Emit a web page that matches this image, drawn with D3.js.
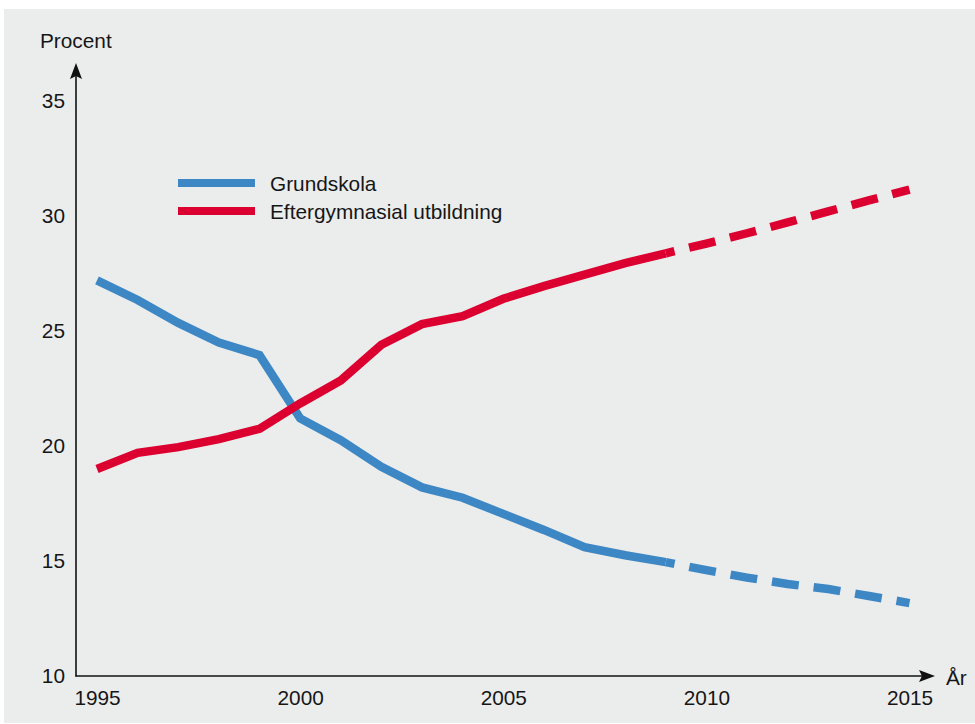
<!DOCTYPE html>
<html lang="sv">
<head>
<meta charset="utf-8">
<script src="https://cdn.jsdelivr.net/npm/d3@7"></script>
<style>
  html, body { margin: 0; padding: 0; background: #ffffff; }
  svg { display: block; }
  text { font-family: "Liberation Sans", Arial, sans-serif; fill: #161616; }
</style>
</head>
<body>
<svg id="chart" width="975" height="724"></svg>
<script>
// Andel av befolkningen efter utbildningsnivå, 1995–2015 (från 2009 prognos)
const years = [1995, 1996, 1997, 1998, 1999, 2000, 2001, 2002, 2003, 2004, 2005,
               2006, 2007, 2008, 2009, 2010, 2011, 2012, 2013, 2014, 2015];
const grundskola = [27.2, 26.35, 25.35, 24.5, 23.95, 21.2, 20.25, 19.1, 18.2, 17.75, 17.05,
                    16.35, 15.6, 15.25, 14.95, 14.6, 14.28, 14.0, 13.78, 13.48, 13.17];
const eftergymnasial = [19.0, 19.7, 19.95, 20.3, 20.75, 21.85, 22.85, 24.4, 25.3, 25.65, 26.4,
                        26.95, 27.45, 27.95, 28.38, 28.8, 29.25, 29.72, 30.2, 30.68, 31.15];
const forecastFrom = 2009;
const seriesNames = ["Grundskola", "Eftergymnasial utbildning"];
const seriesColors = ["#3d87c5", "#dc0030"];
const yTicks = [10, 15, 20, 25, 30, 35];
const xTicks = [1995, 2000, 2005, 2010, 2015];
const yTitle = "Procent";
const xTitle = "År";

const fontSize = 20.8;
const svg = d3.select("#chart");

// Panel background
svg.append("rect")
  .attr("x", 4).attr("y", 9)
  .attr("width", 971).attr("height", 714)
  .attr("fill", "#ebeded");

const x = d3.scaleLinear().domain([1995, 2015]).range([97, 909.5]);
const y = d3.scaleLinear().domain([10, 35]).range([676, 101]);
const x0 = 76;             // y-axis position
const y0 = y(10);          // x-axis position

// Axes: tick labels only, the axis lines are drawn as arrows below
const yAxis = svg.append("g")
  .attr("transform", `translate(${x0},0)`)
  .call(d3.axisLeft(y).tickValues(yTicks).tickSize(0).tickPadding(11).tickFormat(d3.format("d")));
const xAxis = svg.append("g")
  .attr("transform", `translate(0,${y0})`)
  .call(d3.axisBottom(x).tickValues(xTicks).tickSize(0).tickPadding(14).tickFormat(d3.format("d")));
[yAxis, xAxis].forEach(g => {
  g.select(".domain").remove();
  g.selectAll("text").attr("font-size", fontSize).attr("font-family", "Liberation Sans, Arial, sans-serif").attr("fill", "#161616");
});

// Axis lines with arrowheads
const axisColor = "#111";
svg.append("line")
  .attr("x1", x0).attr("y1", y0 + 0.5)
  .attr("x2", x0).attr("y2", 72)
  .attr("stroke", axisColor).attr("stroke-width", 1.6);
svg.append("line")
  .attr("x1", x0 - 0.5).attr("y1", y0)
  .attr("x2", 926).attr("y2", y0)
  .attr("stroke", axisColor).attr("stroke-width", 1.6);
// up arrow
svg.append("path")
  .attr("d", `M${x0},63 L${x0 + 6},79 L${x0},76 L${x0 - 6},79 Z`)
  .attr("fill", axisColor);
// right arrow
svg.append("path")
  .attr("d", `M935,${y0} L919,${y0 - 6} L922,${y0} L919,${y0 + 6} Z`)
  .attr("fill", axisColor);

svg.append("text").attr("x", 40).attr("y", 48).attr("font-size", fontSize).text(yTitle);
svg.append("text").attr("x", 946).attr("y", 685).attr("font-size", fontSize).text(xTitle);

// Lines: observed part solid, forecast part dashed
const line = d3.line().x(d => x(d[0])).y(d => y(d[1])).curve(d3.curveLinear);
[grundskola, eftergymnasial].forEach((vals, i) => {
  const pts = years.map((yr, k) => [yr, vals[k]]);
  const observed = pts.filter(p => p[0] <= forecastFrom);
  const forecast = pts.filter(p => p[0] >= forecastFrom);
  svg.append("path")
    .attr("d", line(observed))
    .attr("fill", "none")
    .attr("stroke", seriesColors[i])
    .attr("stroke-width", 8.5)
    .attr("stroke-linejoin", "miter")
    .attr("stroke-linecap", "butt");
  svg.append("path")
    .attr("d", line(forecast))
    .attr("fill", "none")
    .attr("stroke", seriesColors[i])
    .attr("stroke-width", 8.5)
    .attr("stroke-linejoin", "miter")
    .attr("stroke-linecap", "butt")
    .attr("stroke-dasharray", "27 15")
    .attr("stroke-dashoffset", 18);
});

// Legend
const legend = svg.append("g");
seriesNames.forEach((name, i) => {
  const ly = 183 + i * 28;
  legend.append("line")
    .attr("x1", 178).attr("x2", 255)
    .attr("y1", ly).attr("y2", ly)
    .attr("stroke", seriesColors[i]).attr("stroke-width", 8);
  legend.append("text")
    .attr("x", 270).attr("y", ly + 7.5)
    .attr("font-size", fontSize)
    .text(name);
});
</script>
</body>
</html>
